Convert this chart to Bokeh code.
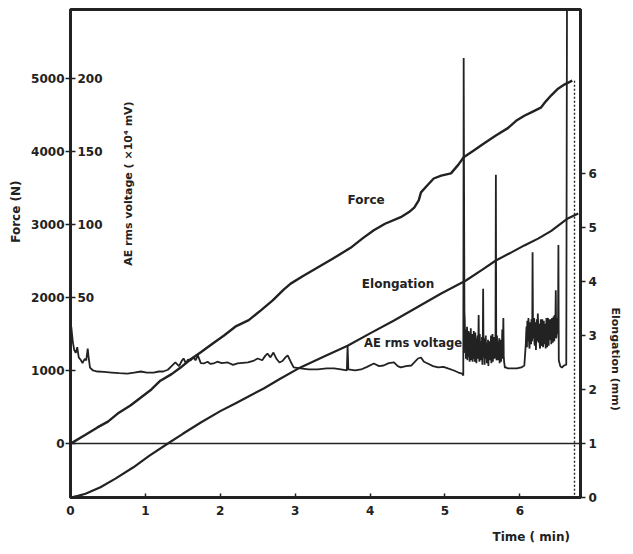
import math
from bokeh.plotting import figure
from bokeh.models import Range1d, LinearAxis, FixedTicker, Label, Span, ColumnDataSource, Title
from bokeh.core.properties import value
from bokeh.embed import file_html
from bokeh.resources import INLINE

# ---------------- data ----------------
# Force (N) against time (min)
force_time = [0.00, 0.03, 0.20, 0.36, 0.50, 0.63, 0.80, 0.94, 1.08, 1.20, 1.35, 1.47, 1.60, 1.74,
              1.90, 2.05, 2.20, 2.38, 2.55, 2.70, 2.85, 2.94, 3.10, 3.30, 3.50, 3.74, 3.90, 4.05,
              4.20, 4.41, 4.52, 4.59, 4.65, 4.68, 4.76, 4.85, 4.95, 5.08, 5.18, 5.25, 5.38, 5.52,
              5.68, 5.84, 5.95, 6.06, 6.18, 6.28, 6.35, 6.42, 6.51, 6.60, 6.70]
force_n = [0, 15, 120, 220, 300, 410, 520, 630, 740, 860, 950, 1040, 1150, 1250,
           1370, 1480, 1600, 1690, 1830, 1960, 2110, 2190, 2290, 2410, 2530, 2680, 2810, 2920,
           3010, 3100, 3170, 3230, 3330, 3440, 3530, 3630, 3670, 3700, 3820, 3920, 4010, 4110,
           4220, 4320, 4420, 4490, 4550, 4600, 4690, 4770, 4860, 4920, 4970]
fracture_time = 6.73

# Elongation (mm) against time (min)
elong_time = [0.00, 0.10, 0.20, 0.40, 0.60, 0.84, 1.05, 1.30, 1.50, 1.74, 2.00, 2.20, 2.58, 2.80,
              3.07, 3.40, 3.70, 4.00, 4.32, 4.60, 4.95, 5.28, 5.50, 5.68, 5.90, 6.06, 6.25, 6.42,
              6.64, 6.78]
elong_mm = [0.00, 0.03, 0.07, 0.19, 0.35, 0.56, 0.77, 1.00, 1.18, 1.39, 1.60, 1.74, 2.02, 2.20,
            2.41, 2.62, 2.81, 3.04, 3.28, 3.50, 3.78, 4.02, 4.22, 4.39, 4.55, 4.67, 4.80, 4.94,
            5.17, 5.26]

# AE rms voltage (x10^4 mV) against time (min)
ae_time = [0.00, 0.01, 0.03, 0.05, 0.07, 0.09, 0.11, 0.14, 0.16, 0.19, 0.21, 0.23, 0.24, 0.26,
           0.30, 0.36, 0.45, 0.55, 0.65, 0.76, 0.85, 0.94, 1.02, 1.11, 1.18, 1.24, 1.30, 1.36,
           1.40, 1.45, 1.49, 1.51, 1.54, 1.57, 1.60, 1.64, 1.67, 1.70, 1.74, 1.78, 1.83, 1.87,
           1.91, 1.96, 2.02, 2.10, 2.17, 2.23, 2.30, 2.37, 2.44, 2.50, 2.56, 2.60, 2.63, 2.67,
           2.71, 2.75, 2.79, 2.83, 2.87, 2.90, 2.94, 2.98, 3.07, 3.18, 3.30, 3.42, 3.52, 3.61,
           3.69, 3.70, 3.71, 3.80, 3.88, 3.96, 4.05, 4.12, 4.18, 4.25, 4.32, 4.37, 4.41, 4.48,
           4.55, 4.60, 4.64, 4.68, 4.72, 4.77, 4.84, 4.91, 4.98, 5.04, 5.12, 5.18, 5.23, 5.245,
           5.25, 5.26,
           5.265, 5.27, 5.275, 5.28, 5.285, 5.29, 5.295, 5.30, 5.305, 5.31, 5.315, 5.32, 5.325,
           5.33, 5.335, 5.34, 5.345, 5.35, 5.355, 5.36, 5.365, 5.37, 5.375, 5.38, 5.385, 5.39,
           5.395, 5.40, 5.405, 5.41, 5.415, 5.42, 5.425, 5.43, 5.435, 5.44, 5.445, 5.45, 5.455,
           5.46, 5.465, 5.47, 5.475, 5.48, 5.485, 5.49, 5.495, 5.50, 5.505, 5.51, 5.515, 5.52,
           5.525, 5.53, 5.535, 5.54, 5.545, 5.55, 5.555, 5.56, 5.565, 5.57, 5.575, 5.58, 5.585,
           5.59, 5.595, 5.60, 5.605, 5.61, 5.615, 5.62, 5.625, 5.63, 5.635, 5.64, 5.645, 5.65,
           5.655, 5.66, 5.665, 5.67, 5.675, 5.68, 5.685, 5.69, 5.695, 5.70, 5.705, 5.71, 5.715,
           5.72, 5.725, 5.73, 5.735, 5.74, 5.745, 5.75, 5.755, 5.76, 5.765, 5.77, 5.775, 5.78,
           5.785, 5.79, 5.80, 5.82, 5.84, 5.90, 5.96, 6.02, 6.06, 6.08,
           6.085, 6.09, 6.095, 6.10, 6.105, 6.11, 6.115, 6.12, 6.125, 6.13, 6.135, 6.14, 6.145,
           6.15, 6.155, 6.16, 6.165, 6.17, 6.175, 6.18, 6.185, 6.19, 6.195, 6.20, 6.205, 6.21,
           6.215, 6.22, 6.225, 6.23, 6.235, 6.24, 6.245, 6.25, 6.255, 6.26, 6.265, 6.27, 6.275,
           6.28, 6.285, 6.29, 6.295, 6.30, 6.305, 6.31, 6.315, 6.32, 6.325, 6.33, 6.335, 6.34,
           6.345, 6.35, 6.355, 6.36, 6.365, 6.37, 6.375, 6.38, 6.385, 6.39, 6.395, 6.40, 6.405,
           6.41, 6.415, 6.42, 6.425, 6.43, 6.435, 6.44, 6.445, 6.45, 6.455, 6.46, 6.465, 6.47,
           6.475, 6.48, 6.485, 6.49, 6.495, 6.50, 6.505, 6.51, 6.515, 6.52, 6.54, 6.56, 6.59,
           6.62, 6.63]
ae_signal = [26, 30, 20, 14, 12, 16, 9, 7, 5, 8, 7, 15, 10, 2,
             0, -0.7, -1.0, -1.4, -1.8, -2.1, -1.4, -0.7, -1.4, -1.4, -0.7, -0.7, 0.5, 3.5,
             5.5, 3.0, 7.0, 8.2, 5.0, 7.5, 6.8, 9.0, 7.0, 10.3, 5.0, 4.8, 6.0, 4.5,
             4.8, 6.0, 5.0, 5.5, 3.8, 4.8, 5.2, 5.5, 6.5, 8.2, 7.0, 10.0, 11.6, 9.0,
             12.3, 8.0, 5.5, 6.5, 9.0, 10.3, 6.0, 2.1, 1.4, 0.7, 0.7, 1.4, 1.4, 0.7,
             0.0, 17.0, 0.7, 0.0, 0.7, 2.5, 4.8, 3.0, 3.4, 5.0, 5.5, 3.0, 2.1, 3.0,
             3.4, 6.0, 8.2, 8.9, 6.0, 4.8, 3.0, 2.1, 2.5, 1.4, 0.0, -1.4, -2.1, -3.4,
             214, 40,
             34, 12, 28, 8, 24, 11, 30, 7, 22, 10, 27, 9, 26,
             6, 21, 10, 29, 7, 18, 9, 25, 6, 20, 11, 27, 8,
             23, 6, 26, 10, 22, 5, 19, 9, 24, 8, 16, 38, 10,
             6, 25, 12, 20, 7, 18, 11, 23, 4, 17, 56, 13, 9,
             22, 4, 18, 10, 24, 8, 19, 5, 16, 9, 21, 3, 15,
             10, 20, 7, 17, 11, 24, 5, 18, 8, 25, 6, 20, 9,
             23, 8, 17, 12, 21, 134, 9, 7, 24, 10, 20, 7, 18,
             12, 22, 5, 16, 9, 21, 6, 19, 10, 28, 8, 20, 36,
             10, 6, 2, 2.1, 1.4, 1.4, 1.4, 2.1, 3.4, 18.5,
             26, 30, 16, 34, 22, 20, 36, 28, 17, 15, 31, 33, 21,
             18, 35, 28, 20, 81, 34, 22, 30, 36, 19, 17, 33, 30,
             14, 26, 35, 27, 20, 39, 31, 19, 25, 32, 18, 15, 29,
             35, 17, 18, 33, 35, 22, 16, 30, 34, 18, 20, 32, 31,
             15, 24, 36, 19, 16, 33, 36, 21, 17, 30, 35, 21, 24,
             32, 35, 18, 30, 36, 22, 19, 32, 37, 24, 20, 38, 30,
             34, 55, 22, 24, 33, 36, 25, 33, 86, 7, 3, 2, 3.4,
             4, 260]

time_ticks = [0, 1, 2, 3, 4, 5, 6]
force_ticks = [0, 1000, 2000, 3000, 4000, 5000]
ae_ticks = [50, 100, 150, 200]
elong_ticks = [0, 1, 2, 3, 4, 5, 6]

# axis ranges and the AE scale relation to the force scale
TIME_RANGE = (0, 6.81)
FORCE_RANGE = (-740, 5945)
ELONG_RANGE = (0, 9.04)
AE_ZERO_AT_FORCE = 1000.0
FORCE_PER_AE = 20.0
AE_RANGE = ((FORCE_RANGE[0] - AE_ZERO_AT_FORCE) / FORCE_PER_AE,
            (FORCE_RANGE[1] - AE_ZERO_AT_FORCE) / FORCE_PER_AE)

INK = "#222222"
FONT = "DejaVu Sans"

p = figure(width=633, height=554, output_backend="svg", toolbar_location=None,
           x_range=Range1d(*TIME_RANGE), y_range=Range1d(*FORCE_RANGE),
           min_border_left=70, min_border_right=53, min_border_top=9, min_border_bottom=57,
           background_fill_color="white", border_fill_color="white")
p.extra_y_ranges = {"elong": Range1d(*ELONG_RANGE), "ae": Range1d(*AE_RANGE)}
p.xgrid.visible = False
p.ygrid.visible = False
p.outline_line_color = INK
p.outline_line_width = 3

def style_axis(ax):
    ax.axis_line_color = INK
    ax.axis_line_width = 3
    ax.major_tick_line_color = INK
    ax.major_tick_line_width = 1.5
    ax.minor_tick_line_color = None
    ax.major_label_text_font = FONT
    ax.major_label_text_font_style = "bold"
    ax.major_label_text_font_size = "12px"
    ax.major_label_text_color = INK

# bottom: time
xa = p.xaxis[0]
style_axis(xa)
xa.ticker = FixedTicker(ticks=time_ticks)
xa.major_tick_in = 4
xa.major_tick_out = 0
xa.major_label_standoff = 8

# left: force
ya = p.yaxis[0]
style_axis(ya)
ya.ticker = FixedTicker(ticks=force_ticks)
ya.major_tick_in = 5
ya.major_tick_out = 5
ya.major_label_standoff = 1

# right: elongation
ra = LinearAxis(y_range_name="elong", ticker=FixedTicker(ticks=elong_ticks))
style_axis(ra)
ra.major_tick_in = 0
ra.major_tick_out = 5
ra.major_label_standoff = 3
p.add_layout(ra, "right")

# axis titles
def title(text, where, align, offset, standoff, size):
    t = Title(text=text, align=align, offset=offset, text_font=FONT, text_font_style="bold",
              text_font_size=size, text_color=INK, standoff=standoff)
    p.add_layout(t, where)

title("Force (N)", "left", "right", 171, 12, "12px")
title("Elongation (mm)", "right", "left", 298, 19, "11px")
title("Time ( min)", "below", "left", 422, 20, "12px")

# zero-force line
p.add_layout(Span(location=0, dimension="width", line_color=INK, line_width=1.3))

# curves
p.line(force_time, force_n, line_color=INK, line_width=2.4)
p.segment(x0=[fracture_time], y0=[force_n[-1]], x1=[fracture_time], y1=[FORCE_RANGE[0]],
          line_color=INK, line_width=1.4, line_dash="2 2")
p.line(elong_time, elong_mm, y_range_name="elong", line_color=INK, line_width=2.2)
p.line(ae_time, ae_signal, y_range_name="ae", line_color=INK, line_width=1.8)

# AE scale labels inside the frame
ae_src = ColumnDataSource(dict(x=[TIME_RANGE[0]] * len(ae_ticks), y=ae_ticks,
                               t=[str(v) for v in ae_ticks]))
p.text(x="x", y="y", text="t", source=ae_src, y_range_name="ae", x_offset=7,
       text_baseline="middle", text_align="left", text_font=value(FONT),
       text_font_style="bold", text_font_size="12px", text_color=INK)

def lab(**kw):
    base = dict(text_font=FONT, text_font_style="bold", text_font_size="12px", text_color=INK)
    base.update(kw)
    p.add_layout(Label(**base))

lab(x=3.70, y=3330, text="Force", text_baseline="middle")
lab(x=3.89, y=3.96, y_range_name="elong", text="Elongation", text_baseline="middle")
lab(x=3.92, y=18.5, y_range_name="ae", text="AE rms voltage", text_baseline="middle",
    text_font_size="11.5px")
lab(x=0.78, y=3560, text="AE rms voltage ( ×10⁴ mV)", angle=math.pi / 2,
    text_align="center", text_baseline="middle", text_font_size="11px")

open("out.html", "w").write(file_html(p, INLINE))
